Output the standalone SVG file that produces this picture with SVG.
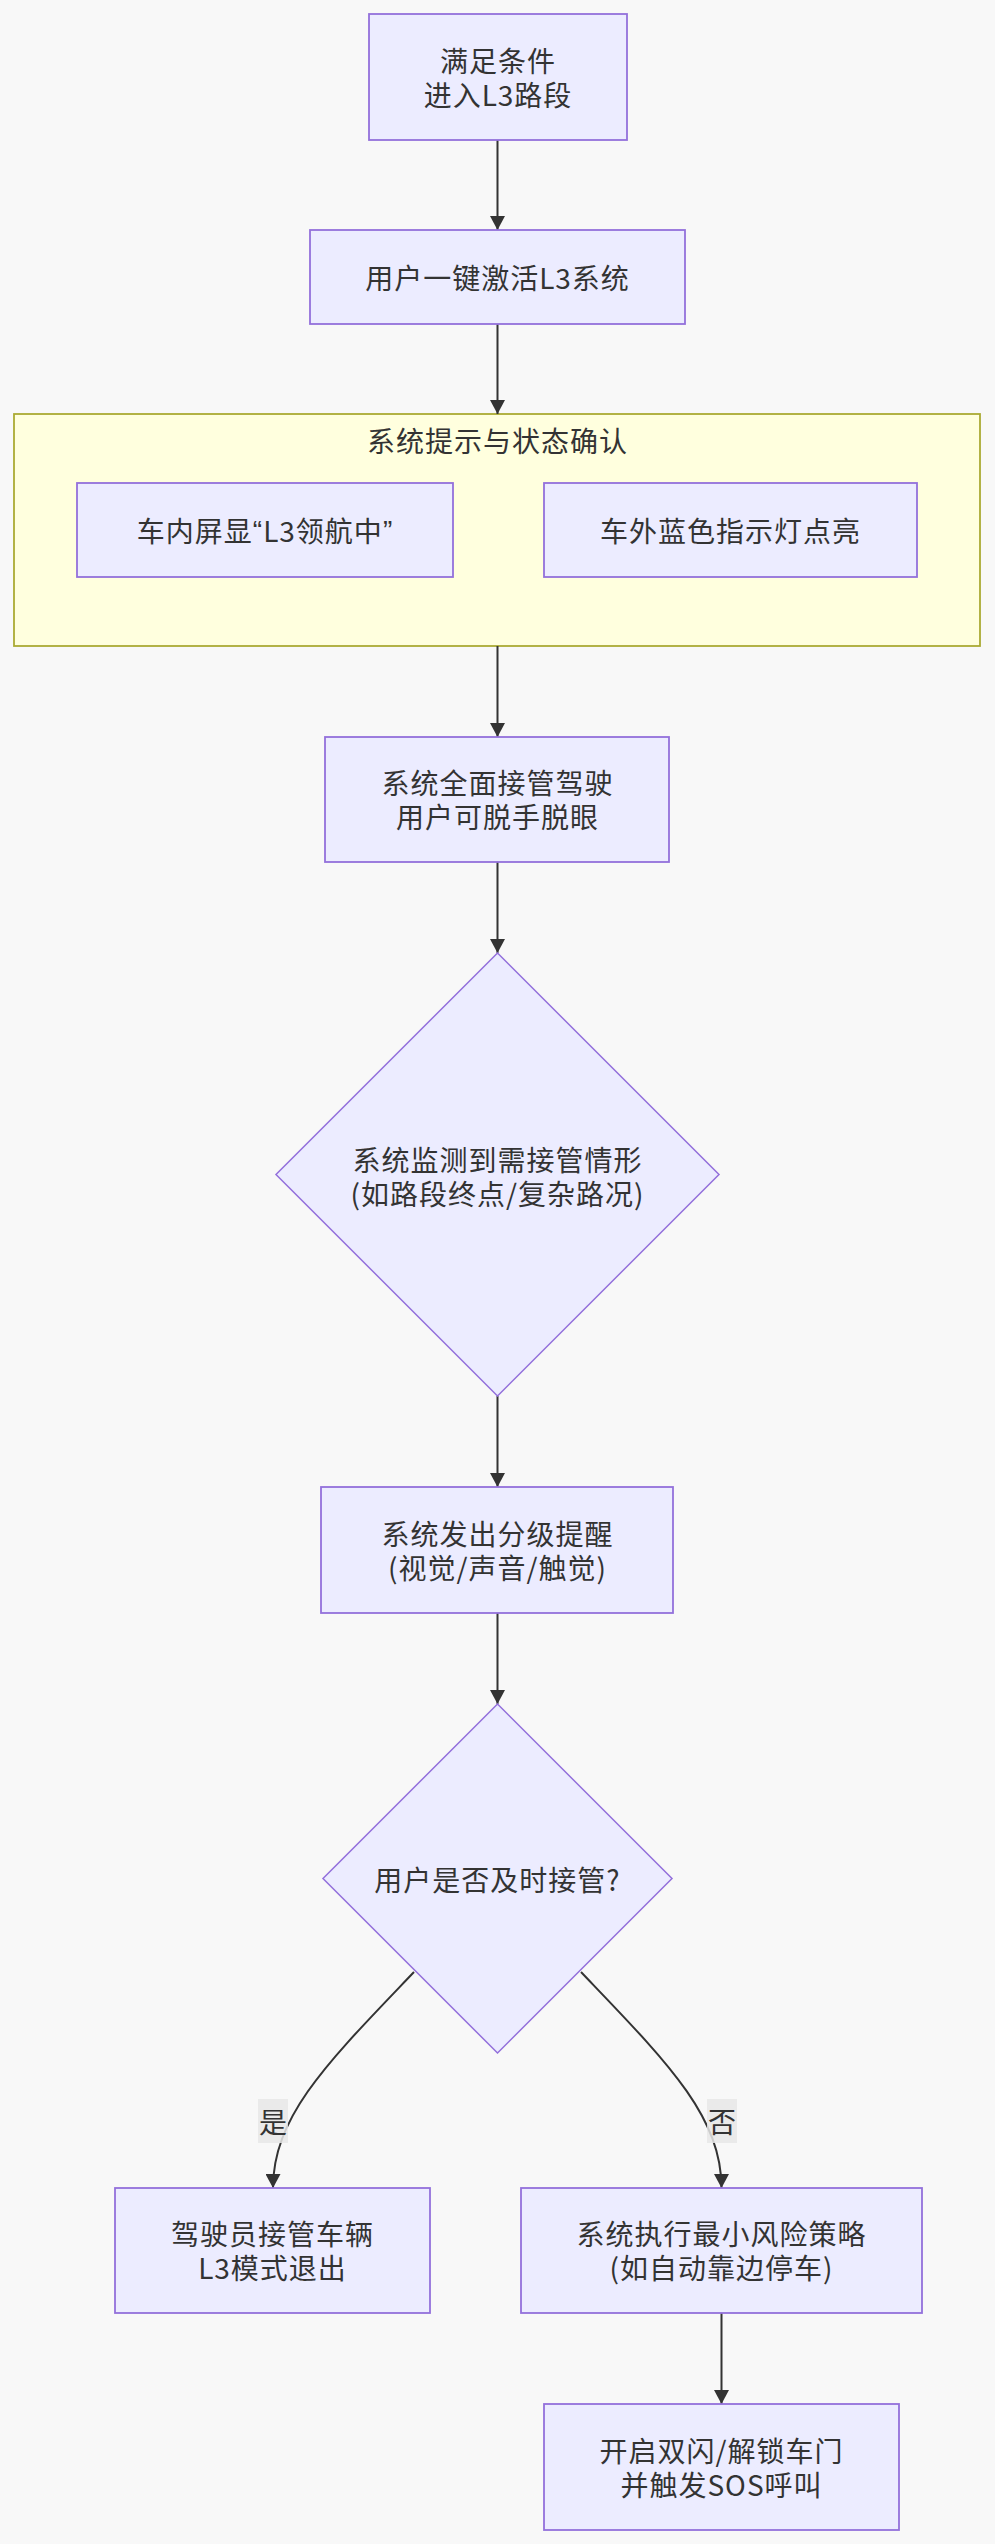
<svg xmlns="http://www.w3.org/2000/svg" width="995" height="2544" viewBox="0 0 995 2544">
  <defs>
    <marker id="arrow" viewBox="0 0 14 15" refX="14" refY="7.5" markerWidth="14" markerHeight="15" markerUnits="userSpaceOnUse" orient="auto">
      <path d="M0,0 L14,7.5 L0,15 z" fill="#333333"/>
    </marker>
    <style>
      .node { fill: #ECECFF; stroke: #9370DB; stroke-width: 1.8; }
      .diamond { fill: #ECECFF; stroke: #9370DB; stroke-width: 1.5; }
      .cluster { fill: #FFFFDE; stroke: #AAAA33; stroke-width: 1.8; }
      .edge { fill: none; stroke: #333333; stroke-width: 2; }
      .lbl { font-family: "Noto Sans CJK SC", "Noto Sans", "Liberation Sans", sans-serif; font-size: 28px; fill: #333333; text-anchor: middle; dominant-baseline: central; letter-spacing: 1px; }
      .q { font-family: "Liberation Sans", sans-serif; }
      .elbl { fill: #E8E8E8; opacity: 0.85; }
    </style>
  </defs>
  <rect x="0" y="0" width="995" height="2544" fill="#F8F8F8"/>

  <g id="cluster-confirm">
    <rect class="cluster" x="14" y="414" width="966" height="232"/>
    <text class="lbl" x="497.5" y="440">系统提示与状态确认</text>
  </g>

  <g id="connectors">
    <path class="edge" d="M497.5,140 L497.5,230" marker-end="url(#arrow)"/>
    <path class="edge" d="M497.5,324 L497.5,414" marker-end="url(#arrow)"/>
    <path class="edge" d="M497.5,646 L497.5,737" marker-end="url(#arrow)"/>
    <path class="edge" d="M497.5,862 L497.5,953" marker-end="url(#arrow)"/>
    <path class="edge" d="M497.5,1396 L497.5,1487" marker-end="url(#arrow)"/>
    <path class="edge" d="M497.5,1613 L497.5,1704" marker-end="url(#arrow)"/>
    <path class="edge" d="M414,1972 C330,2060 273,2115 273,2188" marker-end="url(#arrow)"/>
    <path class="edge" d="M581,1972 C665,2060 721.5,2115 721.5,2188" marker-end="url(#arrow)"/>
    <path class="edge" d="M721.5,2313 L721.5,2404" marker-end="url(#arrow)"/>
    <g id="label-yes">
      <rect class="elbl" x="258" y="2099" width="30" height="44"/>
      <text class="lbl" x="273" y="2121" style="letter-spacing:0">是</text>
    </g>
    <g id="label-no">
      <rect class="elbl" x="707" y="2099" width="30" height="44"/>
      <text class="lbl" x="722" y="2121" style="letter-spacing:0">否</text>
    </g>
  </g>

  <g id="node-A">
    <rect class="node" x="369" y="14" width="258" height="126"/>
    <text class="lbl" x="498" y="60"><tspan x="498">满足条件</tspan><tspan x="498" dy="34">进入L3路段</tspan></text>
  </g>

  <g id="node-B">
    <rect class="node" x="310" y="230" width="375" height="94"/>
    <text class="lbl" x="497.5" y="277">用户一键激活L3系统</text>
  </g>

  <g id="node-screen">
    <rect class="node" x="77" y="483" width="376" height="94"/>
    <text class="lbl" x="265" y="530">车内屏显<tspan class="q">“</tspan>L3领航中<tspan class="q">”</tspan></text>
  </g>

  <g id="node-light">
    <rect class="node" x="544" y="483" width="373" height="94"/>
    <text class="lbl" x="730.5" y="530">车外蓝色指示灯点亮</text>
  </g>

  <g id="node-C">
    <rect class="node" x="325" y="737" width="344" height="125"/>
    <text class="lbl" x="497.5" y="782"><tspan x="497.5">系统全面接管驾驶</tspan><tspan x="497.5" dy="34">用户可脱手脱眼</tspan></text>
  </g>

  <g id="node-D">
    <polygon class="diamond" points="497.5,953 719,1174.5 497.5,1396 276,1174.5"/>
    <text class="lbl" x="497.5" y="1159"><tspan x="497.5">系统监测到需接管情形</tspan><tspan x="497.5" dy="34">(如路段终点/复杂路况)</tspan></text>
  </g>

  <g id="node-E">
    <rect class="node" x="321" y="1487" width="352" height="126"/>
    <text class="lbl" x="497.5" y="1533"><tspan x="497.5">系统发出分级提醒</tspan><tspan x="497.5" dy="34">(视觉/声音/触觉)</tspan></text>
  </g>

  <g id="node-F">
    <polygon class="diamond" points="497.5,1704 672,1878.5 497.5,2053 323,1878.5"/>
    <text class="lbl" x="497.5" y="1879">用户是否及时接管?</text>
  </g>

  <g id="node-G">
    <rect class="node" x="115" y="2188" width="315" height="125"/>
    <text class="lbl" x="272.5" y="2233"><tspan x="272.5">驾驶员接管车辆</tspan><tspan x="272.5" dy="34">L3模式退出</tspan></text>
  </g>

  <g id="node-H">
    <rect class="node" x="521" y="2188" width="401" height="125"/>
    <text class="lbl" x="721.5" y="2233"><tspan x="721.5">系统执行最小风险策略</tspan><tspan x="721.5" dy="34">(如自动靠边停车)</tspan></text>
  </g>

  <g id="node-I">
    <rect class="node" x="544" y="2404" width="355" height="126"/>
    <text class="lbl" x="721.5" y="2450"><tspan x="721.5">开启双闪/解锁车门</tspan><tspan x="721.5" dy="34">并触发SOS呼叫</tspan></text>
  </g>
</svg>
